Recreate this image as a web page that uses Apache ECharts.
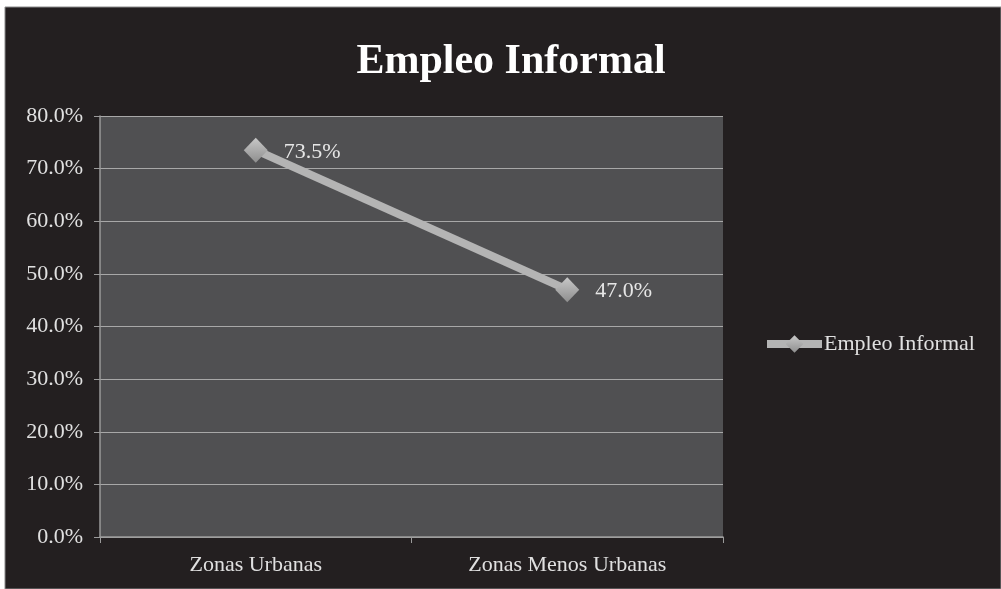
<!DOCTYPE html>
<html>
<head>
<meta charset="utf-8">
<script src="https://cdn.jsdelivr.net/npm/echarts@6/dist/echarts.min.js"></script>
<style>
html,body{margin:0;padding:0;background:#fff;}
#c{width:1001px;height:589px;}
</style>
</head>
<body>
<div id="c"></div>
<script>
const categories = ['Zonas Urbanas', 'Zonas Menos Urbanas'];
const seriesName = 'Empleo Informal';
const values = [73.5, 47.0];
const yTicks = [0, 10, 20, 30, 40, 50, 60, 70, 80];

const serif = '"Liberation Serif", "DejaVu Serif", serif';
const chart = echarts.init(document.getElementById('c'), null, {renderer: 'canvas'});
chart.setOption({
  backgroundColor: '#fff',
  animation: false,
  graphic: [
    {type: 'rect', z: -10, shape: {x: 5, y: 7, width: 996, height: 582}, style: {fill: '#231f20', stroke: '#8a8a8a', lineWidth: 1}}
  ],
  title: {
    text: 'Empleo Informal',
    left: 506, textAlign: 'center', top: 36,
    textStyle: {color: '#ffffff', fontFamily: serif, fontWeight: 'bold', fontSize: 42}
  },
  legend: {
    left: 758, top: 328,
    itemWidth: 55, itemHeight: 22, itemGap: 0,
    data: [seriesName],
    lineStyle: {width: 8, color: '#b4b4b4'},
    textStyle: {color: '#e0e0e0', fontFamily: serif, fontSize: 22, padding: [0, 0, 0, -3]}
  },
  grid: {left: 100, top: 116, width: 623, height: 421, show: true, backgroundColor: '#505052', borderWidth: 0},
  xAxis: {
    type: 'category', data: categories, boundaryGap: true,
    axisLine: {show: true, lineStyle: {color: '#9a9a9a', width: 1.5}},
    axisTick: {show: true, length: 6, lineStyle: {color: '#9a9a9a'}},
    axisLabel: {color: '#e0e0e0', fontFamily: serif, fontSize: 22, margin: 17}
  },
  yAxis: {
    type: 'value', min: yTicks[0], max: yTicks[yTicks.length - 1], interval: 10,
    axisLine: {show: true, lineStyle: {color: '#9a9a9a', width: 1.5}},
    axisTick: {show: true, length: 6, lineStyle: {color: '#9a9a9a'}},
    splitLine: {show: true, lineStyle: {color: '#a8a8a8', width: 1.2}},
    axisLabel: {color: '#e0e0e0', fontFamily: serif, fontSize: 22, margin: 17,
      formatter: v => v.toFixed(1) + '%'}
  },
  series: [{
    name: seriesName, type: 'line', data: values,
    symbol: 'diamond', symbolSize: [24, 25],
    lineStyle: {color: '#b4b4b4', width: 8},
    itemStyle: {color: new echarts.graphic.LinearGradient(0, 0, 0, 1, [
      {offset: 0, color: '#c8c8c8'}, {offset: 1, color: '#8e8e8e'}]), borderWidth: 0},
    label: {show: true, position: 'right', distance: 16, offset: [0, 2],
      color: '#e6e6e6', fontFamily: serif, fontSize: 22,
      formatter: p => p.value.toFixed(1) + '%'}
  }]
});
</script>
</body>
</html>
